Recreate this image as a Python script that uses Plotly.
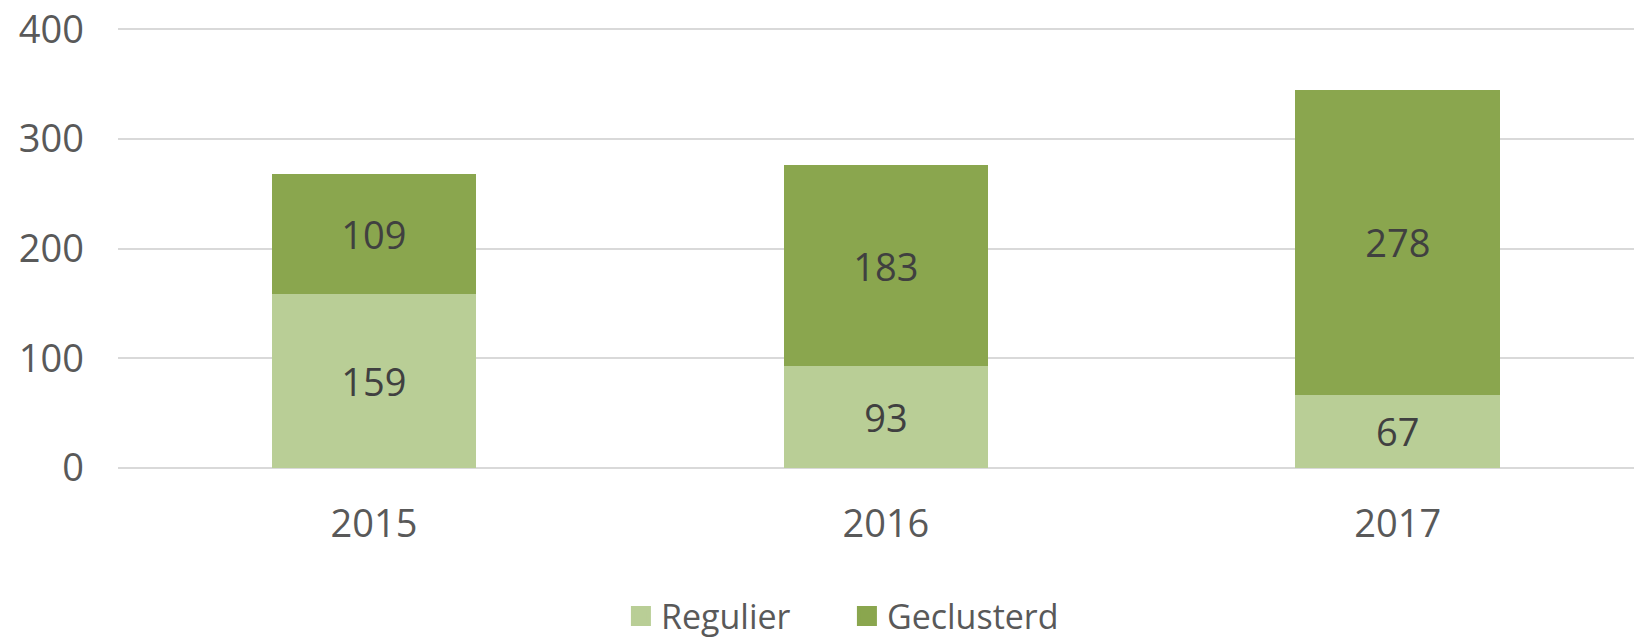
import plotly.graph_objects as go

years = ["2015", "2016", "2017"]
regulier = [159, 93, 67]
geclusterd = [109, 183, 278]
series_names = ["Regulier", "Geclusterd"]
colors = ["#B9CE96", "#8AA64E"]

FONT = "Open Sans"
TXT = "#404040"
AX = "#595959"
FS = 38

fig = go.Figure()
for name, vals, col in zip(series_names, [regulier, geclusterd], colors):
    fig.add_trace(go.Bar(
        x=years, y=vals, name=name, marker=dict(color=col, line=dict(width=0)),
        text=[str(v) for v in vals], textposition="inside", insidetextanchor="middle",
        textfont=dict(family=FONT, size=FS, color=TXT), textangle=0, showlegend=False,
    ))
# legend entries with larger square swatches
for name, col in zip(series_names, colors):
    fig.add_trace(go.Scatter(
        x=[None], y=[None], mode="markers", name=name,
        marker=dict(symbol="square", size=22, color=col, line=dict(width=4, color=col)),
        showlegend=True,
    ))

# page body has an 8px margin: the figure is sized/placed to compensate
fig.update_layout(
    barmode="stack", bargap=0.6,
    width=1634, height=630,
    margin=dict(l=109.5, r=0, t=19.3, b=170.3, pad=0, autoexpand=False),
    paper_bgcolor="white", plot_bgcolor="white",
    font=dict(family=FONT, size=FS, color=AX),
    uniformtext=dict(minsize=FS, mode="show"),
    legend=dict(orientation="h", xanchor="left", x=0.33, yanchor="middle", y=-0.3367,
                font=dict(family=FONT, size=34, color=AX), traceorder="normal",
                itemsizing="trace", itemwidth=30, tracegroupgap=0, entrywidth=181),
    showlegend=True,
)
fig.update_xaxes(range=[-0.5, 2.477], showgrid=False, showline=False, zeroline=False,
                 tickfont=dict(family=FONT, size=FS, color=AX), ticks="", ticklabelstandoff=30,
                 automargin=False)
fig.update_yaxes(range=[0, 402], tickvals=[0, 100, 200, 300, 400], showgrid=True,
                 gridcolor="#D9D9D9", gridwidth=1.5,
                 zeroline=True, zerolinecolor="#D9D9D9", zerolinewidth=1.5, showline=False,
                 tickfont=dict(family=FONT, size=FS, color=AX), ticks="", ticklabelstandoff=33,
                 ticklabeloverflow="allow", automargin=False)

fig.write_html("out.html")
